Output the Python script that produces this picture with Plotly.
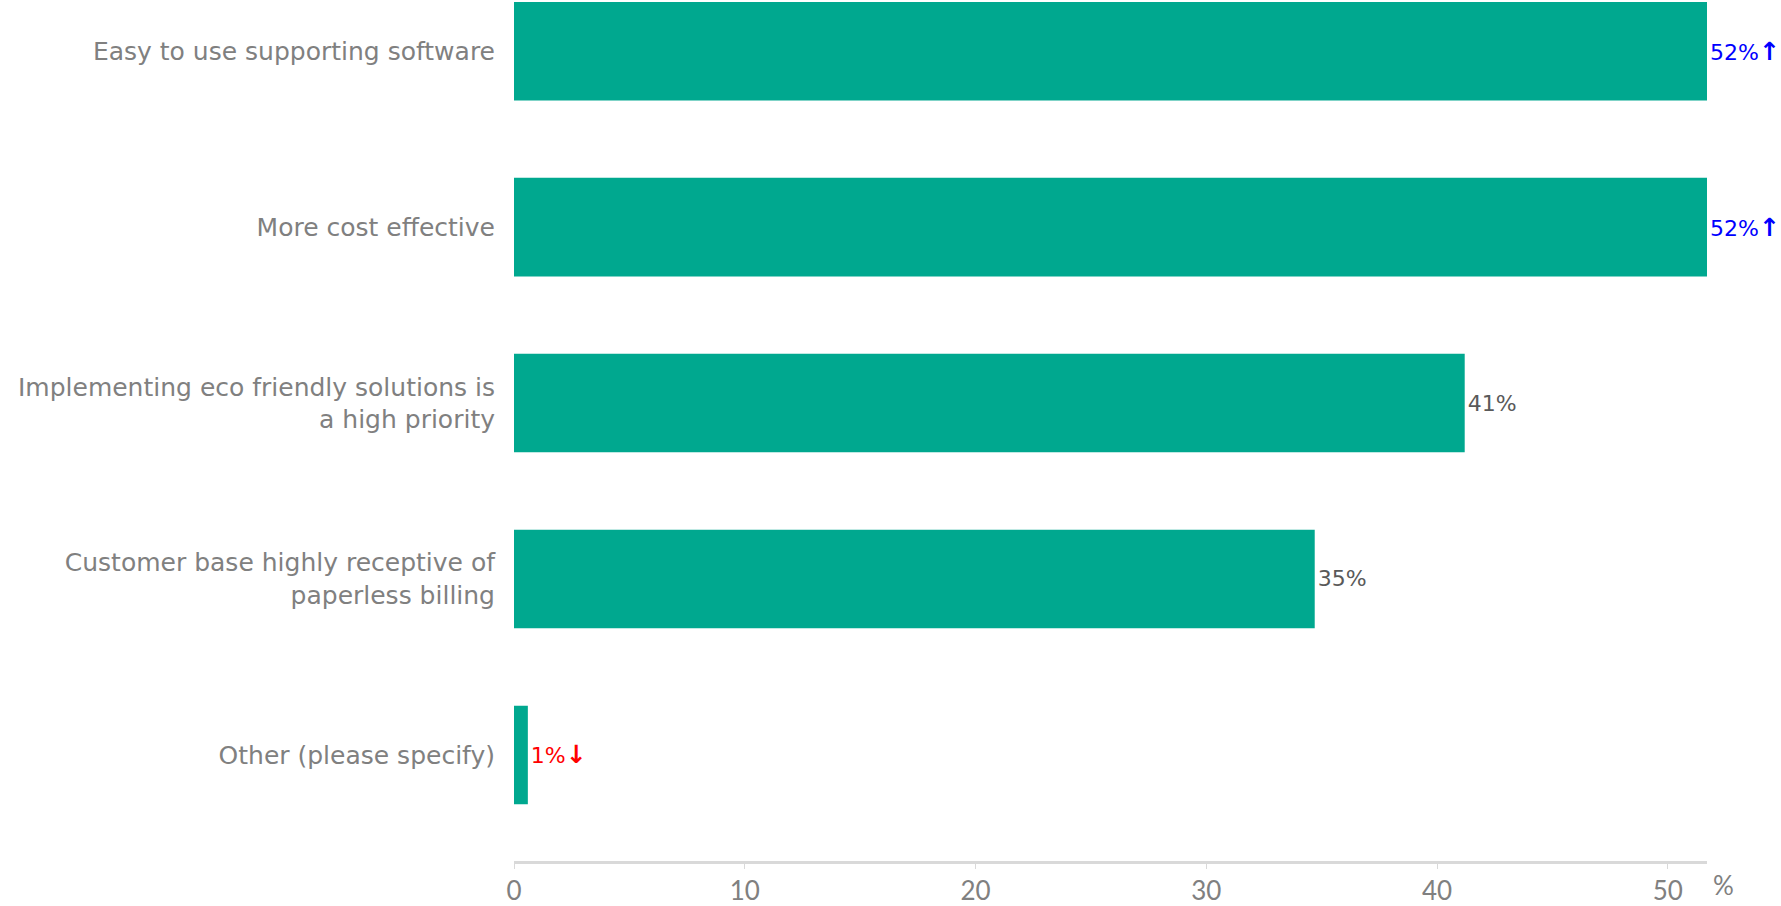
import plotly.graph_objects as go

# Survey reasons, top to bottom
categories = [
    "Easy to use supporting software",
    "More cost effective",
    "Implementing eco friendly solutions is<br>a high priority",
    "Customer base highly receptive of<br>paperless billing",
    "Other (please specify)",
]
shares = [51.7, 51.7, 41.2, 34.7, 0.6]
trend = ["up", "up", "none", "none", "down"]
tick_values = [0, 10, 20, 30, 40, 50]

trend_color = {"up": "#0000FF", "down": "#FF0000", "none": "#595959"}
trend_arrow = {
    "up": "<b><span style='font-size:25px'>↑</span></b>",
    "down": "<b><span style='font-size:25px'>↓</span></b>",
    "none": "",
}

labels = [f"{v:.0f}%{trend_arrow[t]}" for v, t in zip(shares, trend)]
label_colors = [trend_color[t] for t in trend]

text_font = "'DejaVu Sans', sans-serif"
tick_font = "Lato, 'Noto Sans', sans-serif"

fig = go.Figure(
    go.Bar(
        x=shares,
        y=list(range(len(categories))),
        orientation="h",
        marker=dict(color="#00A88F", line=dict(width=0)),
        text=labels,
        textposition="outside",
        constraintext="none",
        cliponaxis=False,
        textfont=dict(color=label_colors, size=22, family=text_font),
        hoverinfo="skip",
    )
)

fig.update_layout(
    width=1781,
    height=906,
    margin=dict(l=514, r=74, t=0, b=37),
    paper_bgcolor="white",
    plot_bgcolor="white",
    bargap=0.44,
    showlegend=False,
    font=dict(family=text_font, color="#808080"),
)

fig.update_xaxes(
    range=[0, max(shares)],
    tickvals=tick_values,
    showgrid=False,
    zeroline=False,
    showline=True,
    linecolor="#D9D9D9",
    linewidth=3,
    ticks="outside",
    ticklen=5,
    tickcolor="#D9D9D9",
    tickfont=dict(size=26, color="#808080", family=tick_font),
)

fig.update_yaxes(
    tickvals=list(range(len(categories))),
    ticktext=categories,
    range=[4.603, -0.291],
    showgrid=False,
    zeroline=False,
    showline=False,
    ticks="",
    ticklabelstandoff=18,
    tickfont=dict(size=25, color="#808080", family=text_font),
)

# unit marker at the end of the value axis
fig.add_annotation(
    x=1.0, xref="paper", y=0, yref="paper",
    text="%", showarrow=False,
    xanchor="left", yanchor="top", xshift=4, yshift=-6,
    font=dict(size=26, color="#808080", family=tick_font),
)

fig.write_html("out.html")
